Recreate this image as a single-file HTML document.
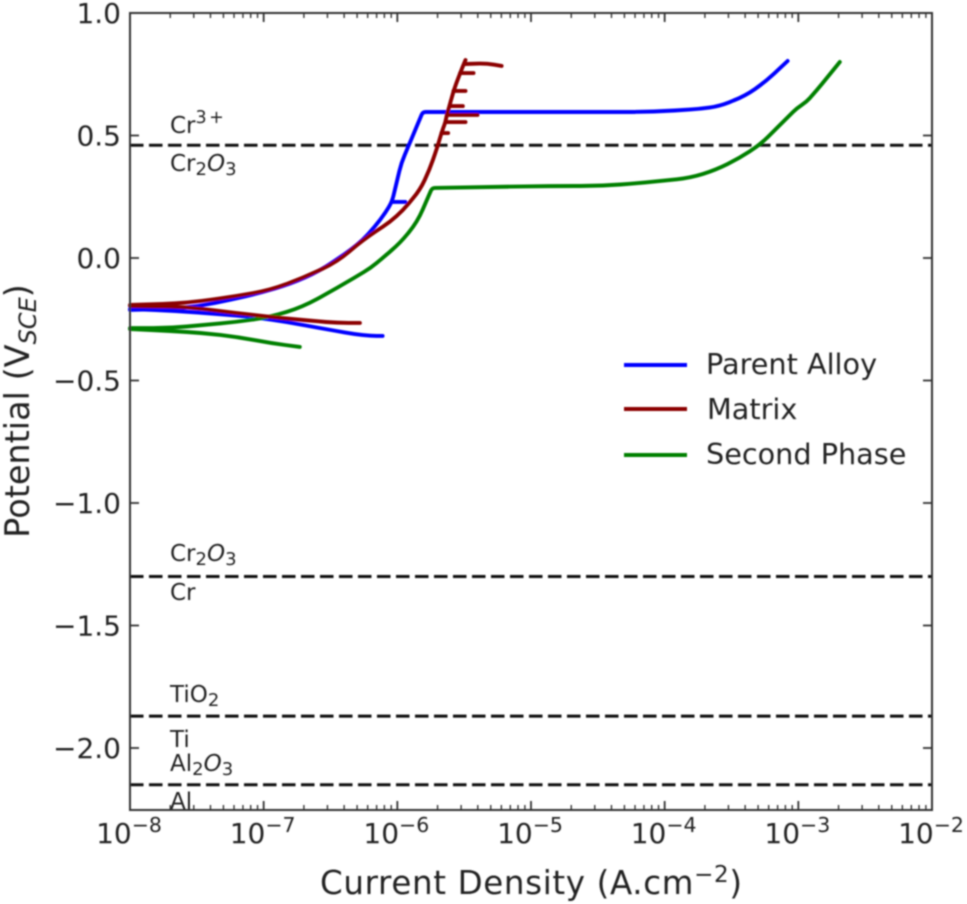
<!DOCTYPE html>
<html>
<head>
<meta charset="utf-8">
<style>
html,body{margin:0;padding:0;background:#fff;width:967px;height:904px;overflow:hidden}
svg{display:block}
text{font-family:"DejaVu Sans","Liberation Sans",sans-serif;fill:#222}
</style>
</head>
<body>
<svg id="chart" xmlns="http://www.w3.org/2000/svg" width="967" height="904" viewBox="0 0 967 904">
<defs><filter id="soft" x="-5%" y="-5%" width="110%" height="110%"><feGaussianBlur stdDeviation="0.8"/></filter></defs>
<g filter="url(#soft)">
<g id="grid-lines"></g>
<g id="series"></g>
<g id="ticks"></g>
<rect x="130" y="13" width="802" height="797" fill="none" stroke="#333" stroke-width="2"/>
<g id="tick-labels"></g>

<text x="531" y="894" font-size="32.5" text-anchor="middle" textLength="422">Current Density (A.cm<tspan dy="-12" font-size="23">−2</tspan><tspan dy="12">)</tspan></text>
<text transform="translate(29,411) rotate(-90)" font-size="33.5" text-anchor="middle">Potential (V<tspan dy="7" font-size="24" font-style="italic">SCE</tspan><tspan dy="-7">)</tspan></text>

<text x="170" y="133" font-size="23">Cr<tspan dy="-10" font-size="17.5" letter-spacing="2.5">3+</tspan></text>
<text x="170" y="171" font-size="23">Cr<tspan dy="4" font-size="18">2</tspan><tspan dy="-4" font-style="italic">O</tspan><tspan dy="4" font-size="18">3</tspan></text>
<text x="170" y="561" font-size="23">Cr<tspan dy="4" font-size="18">2</tspan><tspan dy="-4" font-style="italic">O</tspan><tspan dy="4" font-size="18">3</tspan></text>
<text x="170" y="600" font-size="23">Cr</text>
<text x="170" y="702" font-size="23">TiO<tspan dy="4" font-size="18">2</tspan></text>
<text x="170" y="747" font-size="23">Ti</text>
<text x="170" y="771" font-size="23">Al<tspan dy="4" font-size="18">2</tspan><tspan dy="-4" font-style="italic">O</tspan><tspan dy="4" font-size="18">3</tspan></text>
<text x="170" y="809" font-size="23">Al</text>

<g>
<line x1="624" x2="687" y1="365" y2="365" stroke="#0000ff" stroke-width="4"/>
<text x="706" y="374" font-size="28.7">Parent Alloy</text>
<line x1="624" x2="687" y1="409" y2="409" stroke="#8b0000" stroke-width="4"/>
<text x="707" y="419" font-size="28.7">Matrix</text>
<line x1="624" x2="687" y1="455" y2="455" stroke="#008000" stroke-width="4"/>
<text x="706" y="464" font-size="28.7">Second Phase</text>
</g>
</g>
</svg>
<script>
// Axis domain
var xDecades = [-8, -7, -6, -5, -4, -3, -2];
var yTicks = [1.0, 0.5, 0.0, -0.5, -1.0, -1.5, -2.0];
var yTickLabels = ['1.0', '0.5', '0.0', '\u22120.5', '\u22121.0', '\u22121.5', '\u22122.0'];
var xTickExponents = ['\u22128', '\u22127', '\u22126', '\u22125', '\u22124', '\u22123', '\u22122'];
var equilibriumPotentials = [0.46, -1.3, -1.87, -2.15];

// Series data: log10 of current density and potential (V vs SCE)
var parentAnodicLogI = [-8, -7.70, -7.48, -7.25, -7.03, -6.80, -6.58, -6.35, -6.26, -6.17, -6.09, -6.04, -5.97, -5.92, -5.81, -4.48, -4.11, -3.74, -3.59, -3.40, -3.25, -3.08];
var parentAnodicV = [-0.212, -0.208, -0.196, -0.171, -0.143, -0.106, -0.053, 0.033, 0.073, 0.127, 0.184, 0.229, 0.388, 0.453, 0.596, 0.596, 0.596, 0.608, 0.620, 0.661, 0.718, 0.804];
var parentCathodicLogI = [-8, -7.65, -7.33, -7.08, -6.83, -6.58, -6.33, -6.20, -6.11];
var parentCathodicV = [-0.208, -0.216, -0.229, -0.241, -0.261, -0.286, -0.310, -0.318, -0.318];
var parentSpikeV = [0.229];
var parentSpikeStartLogI = [-6.04];
var parentSpikeEndLogI = [-5.94];

var matrixAnodicLogI = [-8, -7.57, -7.20, -6.95, -6.71, -6.45, -6.26, -6.00, -5.83, -5.76, -5.70, -5.67, -5.64, -5.63, -5.61, -5.58, -5.53, -5.49];
var matrixAnodicV = [-0.192, -0.184, -0.155, -0.131, -0.082, -0.016, 0.073, 0.167, 0.278, 0.359, 0.453, 0.510, 0.555, 0.584, 0.620, 0.682, 0.755, 0.808];
var matrixCathodicLogI = [-8, -7.57, -7.33, -6.95, -6.71, -6.45, -6.28];
var matrixCathodicV = [-0.196, -0.200, -0.216, -0.241, -0.253, -0.265, -0.265];
var matrixSpikeV = [0.510, 0.555, 0.584, 0.620, 0.682, 0.755];
var matrixSpikeStartLogI = [-5.67, -5.64, -5.63, -5.61, -5.58, -5.53];
var matrixSpikeEndLogI = [-5.62, -5.49, -5.40, -5.51, -5.49, -5.43];
var matrixTailLogI = [-5.49, -5.33, -5.22];
var matrixTailV = [0.792, 0.794, 0.784];

var secondAnodicLogI = [-8, -7.70, -7.45, -7.20, -6.95, -6.71, -6.45, -6.20, -6.11, -5.98, -5.85, -5.74, -4.86, -4.48, -4.18, -3.81, -3.62, -3.44, -3.29, -3.01, -2.94, -2.86, -2.69];
var secondAnodicV = [-0.286, -0.286, -0.273, -0.261, -0.241, -0.200, -0.122, -0.041, 0.000, 0.061, 0.147, 0.286, 0.294, 0.294, 0.306, 0.327, 0.359, 0.408, 0.461, 0.612, 0.637, 0.686, 0.800];
var secondCathodicLogI = [-8, -7.70, -7.45, -7.20, -6.95, -6.73];
var secondCathodicV = [-0.290, -0.298, -0.306, -0.322, -0.347, -0.363];

var NS = 'http://www.w3.org/2000/svg';
function xScale(logI) { return 130 + (logI + 8) * (802 / 6); }
function yScale(v) { return 258 - v * 245; }
function make(tag, attrs, parent) {
  var el = document.createElementNS(NS, tag);
  for (var k in attrs) el.setAttribute(k, attrs[k]);
  parent.appendChild(el);
  return el;
}
function smoothPath(logI, v) {
  var p = [];
  for (var i = 0; i < logI.length; i++) p.push([xScale(logI[i]), yScale(v[i])]);
  var d = 'M' + p[0][0].toFixed(1) + ' ' + p[0][1].toFixed(1);
  for (var j = 1; j < p.length - 1; j++) {
    var ax = p[j - 1][0] - p[j][0], ay = p[j - 1][1] - p[j][1];
    var bx = p[j + 1][0] - p[j][0], by = p[j + 1][1] - p[j][1];
    var la = Math.hypot(ax, ay), lb = Math.hypot(bx, by);
    var turn = Math.PI - Math.acos(Math.max(-1, Math.min(1, (ax * bx + ay * by) / (la * lb))));
    var r = turn > 0.7 ? 3 : Math.min(la, lb) * 0.5;
    r = Math.min(r, la * 0.5, lb * 0.5);
    var sx = p[j][0] + ax / la * r, sy = p[j][1] + ay / la * r;
    var ex = p[j][0] + bx / lb * r, ey = p[j][1] + by / lb * r;
    d += 'L' + sx.toFixed(1) + ' ' + sy.toFixed(1) + 'Q' + p[j][0].toFixed(1) + ' ' + p[j][1].toFixed(1) + ' ' + ex.toFixed(1) + ' ' + ey.toFixed(1);
  }
  var q = p[p.length - 1];
  return d + 'L' + q[0].toFixed(1) + ' ' + q[1].toFixed(1);
}
function drawCurve(logI, v, color, name) {
  var el = make('path', {d: smoothPath(logI, v), fill: 'none', stroke: color, 'stroke-width': 3.9, 'stroke-linejoin': 'round', 'stroke-linecap': 'round'}, document.getElementById('series'));
  
  
}
function drawSpikes(v, startLogI, endLogI, color, name) {
  for (var i = 0; i < v.length; i++) {
    var el = make('line', {x1: xScale(startLogI[i]), x2: xScale(endLogI[i]), y1: yScale(v[i]), y2: yScale(v[i]), stroke: color, 'stroke-width': 3.9, 'stroke-linecap': 'round'}, document.getElementById('series'));
    
    
  }
}
drawCurve(parentCathodicLogI, parentCathodicV, '#0000ff', 'parent-alloy-cathodic-curve');
drawCurve(parentAnodicLogI, parentAnodicV, '#0000ff', 'parent-alloy-anodic-curve');
drawSpikes(parentSpikeV, parentSpikeStartLogI, parentSpikeEndLogI, '#0000ff', 'parent-alloy-spike');
drawCurve(secondCathodicLogI, secondCathodicV, '#008000', 'second-phase-cathodic-curve');
drawCurve(secondAnodicLogI, secondAnodicV, '#008000', 'second-phase-anodic-curve');
drawCurve(matrixCathodicLogI, matrixCathodicV, '#8b0000', 'matrix-cathodic-curve');
drawCurve(matrixAnodicLogI, matrixAnodicV, '#8b0000', 'matrix-anodic-curve');
drawSpikes(matrixSpikeV, matrixSpikeStartLogI, matrixSpikeEndLogI, '#8b0000', 'matrix-spike');
drawCurve(matrixTailLogI, matrixTailV, '#8b0000', 'matrix-top-tail');

var gridGroup = document.getElementById('grid-lines');
equilibriumPotentials.forEach(function (p) {
  var l = make('line', {x1: 130, x2: 932, y1: yScale(p), y2: yScale(p), stroke: '#111', 'stroke-width': 3, 'stroke-dasharray': '13.5 5.5'}, gridGroup);
  
  
});

var tickGroup = document.getElementById('ticks');
var labelGroup = document.getElementById('tick-labels');
function tick(x1, y1, x2, y2, w) {
  var t = make('line', {x1: x1, y1: y1, x2: x2, y2: y2, stroke: '#333', 'stroke-width': w}, tickGroup);
  
  
}
xDecades.forEach(function (d, i) {
  var x = xScale(d);
  tick(x, 810, x, 801, 1.8);
  tick(x, 13, x, 22, 1.8);
  if (i < xDecades.length - 1) {
    for (var m = 2; m < 10; m++) {
      var xm = xScale(d + Math.log10(m));
      tick(xm, 810, xm, 805, 1.4);
      tick(xm, 13, xm, 18, 1.4);
    }
  }
  var lab = make('text', {x: x - 1, y: 843, 'font-size': 28, 'text-anchor': 'middle'}, labelGroup);
  
  
  lab.appendChild(document.createTextNode('10'));
  var sup = make('tspan', {dy: -11, 'font-size': 20.5}, lab);
  sup.textContent = xTickExponents[i];
});
yTicks.forEach(function (v, i) {
  var y = yScale(v);
  tick(130, y, 139, y, 1.8);
  tick(932, y, 923, y, 1.8);
  var lab = make('text', {x: 121, y: y + 10, 'font-size': 28, 'text-anchor': 'end'}, labelGroup);
  
  
  lab.textContent = yTickLabels[i];
});
</script>
</body>
</html>
